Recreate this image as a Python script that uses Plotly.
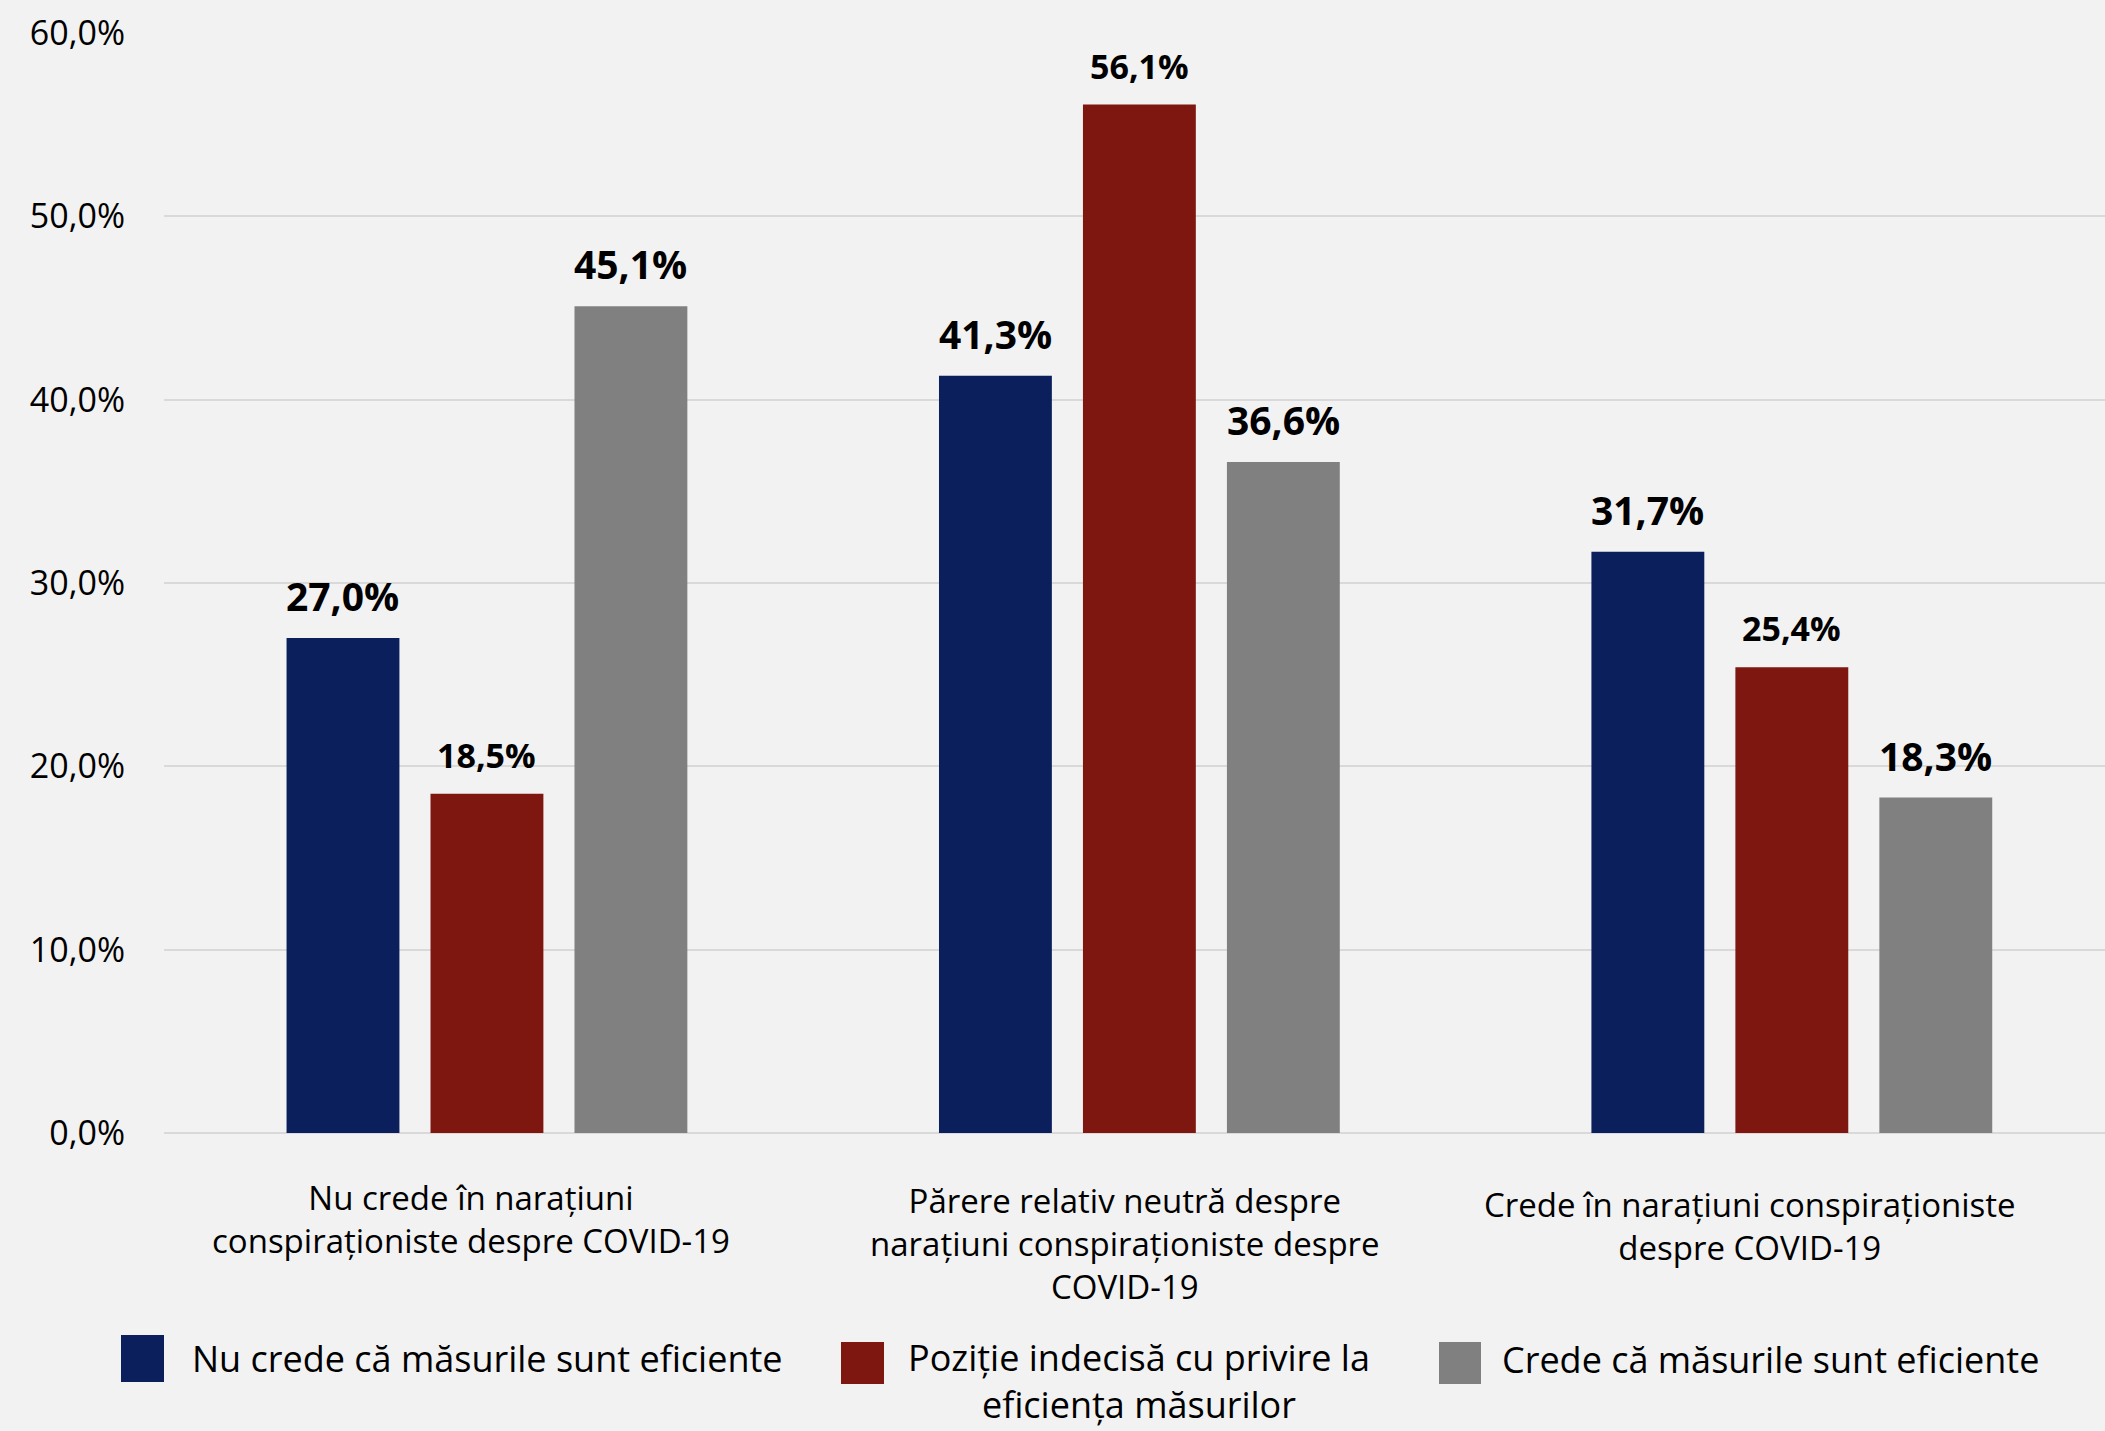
import plotly.graph_objects as go

# ---------------- data ----------------
categories = [
    "Nu crede în narațiuni<br>conspiraționiste despre COVID-19",
    "Părere relativ neutră despre<br>narațiuni conspiraționiste despre<br>COVID-19",
    "Crede în narațiuni conspiraționiste<br>despre COVID-19",
]
series_names = [
    "Nu crede că măsurile sunt eficiente",
    "Poziție indecisă cu privire la<br>eficiența măsurilor",
    "Crede că măsurile sunt eficiente",
]
nu_crede = [27.0, 41.3, 31.7]
indecis = [18.5, 56.1, 25.4]
crede = [45.1, 36.6, 18.3]
series_values = [nu_crede, indecis, crede]
y_ticks = [0, 10, 20, 30, 40, 50, 60]
y_tick_labels = [f"{v:.1f}%".replace(".", ",") for v in y_ticks]

# ---------------- style ----------------
W, H = 2105, 1431
L, T = 164, 33
PLOT_W, PLOT_H = W - L, 1100
B = H - T - PLOT_H
colors = ["#0b1f5c", "#7e1710", "#808080"]
label_sizes = [39, 34, 39]
FONT = "Open Sans"
BG = "#f2f2f2"
BARGAP, BARGROUPGAP = 0.338, 0.216
slot = (1 - BARGAP) / 3


def px_x(X):
    return (X - L) / PLOT_W


def px_y(Y):
    return (T + PLOT_H - Y) / PLOT_H


fig = go.Figure()
for name, vals, col in zip(series_names, series_values, colors):
    fig.add_trace(go.Bar(
        x=categories, y=vals, name=name.replace("<br>", " "),
        marker=dict(color=col, line=dict(width=0)),
        showlegend=False, hoverinfo="skip",
    ))

annotations = []
# data labels
for s, (vals, fs) in enumerate(zip(series_values, label_sizes)):
    for i, v in enumerate(vals):
        annotations.append(dict(
            x=i + (s - 1) * slot, y=v, xref="x", yref="y",
            text="<b>" + f"{v:.1f}".replace(".", ",") + "%</b>",
            showarrow=False, yanchor="bottom", xanchor="center", yshift=14,
            font=dict(family=FONT, size=fs, color="#000000"),
        ))

# category labels
cat_xshift = [-16, -14, -42]
cat_top = [1173, 1176, 1180]
for i, cat in enumerate(categories):
    annotations.append(dict(
        x=i, xref="x", y=px_y(cat_top[i]), yref="paper",
        text=cat, showarrow=False, xanchor="center", yanchor="top", align="center",
        xshift=cat_xshift[i],
        font=dict(family=FONT, size=33, color="#000000"),
    ))

# custom legend
shapes = []
sq_boxes = [(121, 164, 1335, 1382), (841, 884, 1342, 1384), (1439, 1481, 1342, 1384)]
for (x0, x1, y0, y1), col in zip(sq_boxes, colors):
    shapes.append(dict(type="rect", xref="paper", yref="paper",
                       x0=px_x(x0), x1=px_x(x1), y0=px_y(y1), y1=px_y(y0),
                       fillcolor=col, line=dict(width=0)))
leg_text_pos = [(190, "left", "middle", 1358), (1139, "center", "top", 1331), (1500, "left", "middle", 1359)]
for name, (tx, xanc, yanc, ty) in zip(series_names, leg_text_pos):
    annotations.append(dict(
        x=px_x(tx), xref="paper", y=px_y(ty), yref="paper",
        text=name, showarrow=False, xanchor=xanc, yanchor=yanc, align="center",
        font=dict(family=FONT, size=36, color="#000000"),
    ))

fig.update_layout(
    width=W, height=H,
    margin=dict(l=L, r=0, t=T, b=B, pad=0),
    paper_bgcolor=BG, plot_bgcolor=BG,
    barmode="group", bargap=BARGAP, bargroupgap=BARGROUPGAP,
    separators=",.",
    font=dict(family=FONT, color="#000000"),
    annotations=annotations, shapes=shapes,
    showlegend=False,
)
fig.update_xaxes(range=[-0.495, 2.48], showticklabels=False, showgrid=False,
                 zeroline=False, showline=False, ticks="")
fig.update_yaxes(range=[0, 60], tickmode="array", tickvals=y_ticks, ticktext=y_tick_labels,
                 showgrid=True, gridcolor="#d9d9d9", gridwidth=2,
                 zeroline=True, zerolinecolor="#d9d9d9", zerolinewidth=2,
                 showline=False, ticks="", ticklabelstandoff=38,
                 tickfont=dict(family=FONT, size=34, color="#000000"))

fig.write_html(
    "out.html",
    config={"displayModeBar": False},
    post_script="document.body.style.margin='0px';document.body.style.background='%s';" % BG,
)
